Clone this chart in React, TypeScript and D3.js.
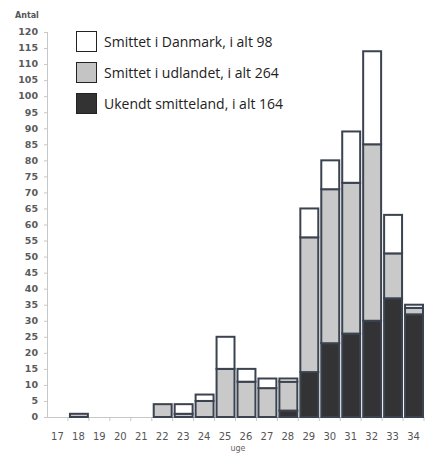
import React from "react";
import * as d3 from "d3";

const weeks = [17, 18, 19, 20, 21, 22, 23, 24, 25, 26, 27, 28, 29, 30, 31, 32, 33, 34];
const unknown = [0, 0, 0, 0, 0, 0, 0, 0, 0, 0, 0, 2, 14, 23, 26, 30, 37, 32];
const abroad = [0, 1, 0, 0, 0, 4, 1, 5, 15, 11, 9, 9, 42, 48, 47, 55, 14, 2];
const denmark = [0, 0, 0, 0, 0, 0, 3, 2, 10, 4, 3, 1, 9, 9, 16, 29, 12, 1];
const yTicks = d3.range(0, 121, 5);
const legendLabels = [
  "Smittet i Danmark, i alt 98",
  "Smittet i udlandet, i alt 264",
  "Ukendt smitteland, i alt 164",
];
const legendFills = ["#ffffff", "#c4c4c4", "#333333"];
const segFills = ["#333335", "#c9c9c9", "#ffffff"];

export default function App() {
  const W = 429, H = 453;
  const x = d3.scaleBand<number>().domain(weeks).range([47, 424]).padding(0);
  const y = d3.scaleLinear().domain([0, 120]).range([417, 32]);
  const bw = x.bandwidth();
  const stack = d3
    .stack<any>()
    .keys(["u", "a", "d"])(
      weeks.map((w, i) => ({ w, u: unknown[i], a: abroad[i], d: denmark[i] }))
    );
  const labelFont = "'DejaVu Sans', Verdana, sans-serif";
  return (
    <svg width={W} height={H} style={{ position: "absolute", left: 0, top: 0, background: "#fff" }}>
      <text x={15} y={18} fontFamily={labelFont} fontWeight="bold" fontSize={8} fill="#555">Antal</text>
      {/* y axis */}
      <line x1={47.5} x2={47.5} y1={y(120)} y2={y(0)} stroke="#c8c8c8" strokeWidth={1} />
      {yTicks.map((t) => (
        <g key={t}>
          <line x1={44} x2={47.5} y1={y(t) + 0.5} y2={y(t) + 0.5} stroke="#c8c8c8" />
          <text x={38} y={y(t)} dy="0.35em" textAnchor="end" fontFamily={labelFont} fontWeight="bold" fontSize={9.5} fill="#5a5a5a">{t}</text>
        </g>
      ))}
      {/* x axis */}
      <line x1={47} x2={424} y1={y(0) + 0.5} y2={y(0) + 0.5} stroke="#c8c8c8" />
      {weeks.map((w) => (
        <g key={w}>
          <line x1={(x(w) as number) + bw} x2={(x(w) as number) + bw} y1={y(0)} y2={y(0) + 4} stroke="#c8c8c8" />
          <text x={(x(w) as number) + bw / 2} y={440} textAnchor="middle" fontFamily={labelFont} fontSize={10} fill="#555">{w}</text>
        </g>
      ))}
      <text x={238} y={451} textAnchor="middle" fontFamily={labelFont} fontSize={8} fill="#666">uge</text>
      {/* bars */}
      {stack.map((layer, li) =>
        layer.map((d, i) => {
          if (d[1] - d[0] <= 0) return null;
          const w = weeks[i];
          return (
            <rect
              key={li + "-" + w}
              x={(x(w) as number) + 2}
              width={bw - 3}
              y={y(d[1])}
              height={y(d[0]) - y(d[1])}
              fill={segFills[li]}
              stroke="#3b4350"
              strokeWidth={2}
            />
          );
        })
      )}
      {/* legend */}
      {legendLabels.map((l, i) => (
        <g key={l} transform={`translate(76, ${31 + i * 31})`}>
          <rect x={0.5} y={0.5} width={20} height={20} fill={legendFills[i]} stroke="#222" strokeWidth={1} />
          <text x={28} y={11} dy="0.35em" fontFamily="'Open Sans', sans-serif" fontSize={14} fill="#222">{l}</text>
        </g>
      ))}
    </svg>
  );
}
